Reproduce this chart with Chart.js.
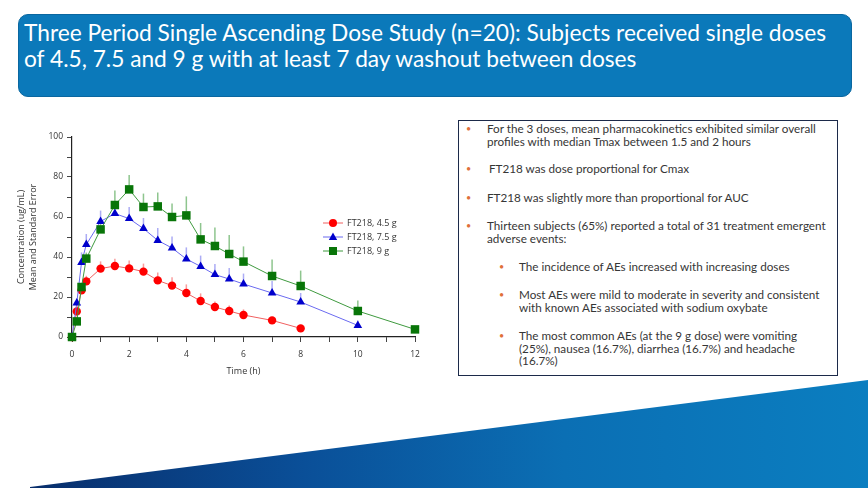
<!DOCTYPE html>
<html>
<head>
<meta charset="utf-8">
<script src="https://cdn.jsdelivr.net/npm/chart.js@4"></script>
<style>
  html, body { margin: 0; padding: 0; }
  body { width: 868px; height: 488px; position: relative; overflow: hidden; background: #fff; }
  #titlebox {
    position: absolute; left: 18px; top: 14px; width: 834px; height: 83px;
    background: #0b79ba; border-radius: 10px; border: 1px solid #0a67a0; box-sizing: border-box;
  }
  #title {
    position: absolute; left: 24px; top: 19px; color: #fff;
    font-family: Lato, sans-serif; font-size: 24px; line-height: 26px;
    white-space: nowrap; transform-origin: 0 0;
  }
  #wedge {
    position: absolute; left: 0; top: 0; width: 868px; height: 488px;
    background: linear-gradient(90deg, #082a66 0%, #0a4f98 35%, #0b6fb4 65%, #0b7ec0 100%);
    clip-path: polygon(30px 487px, 868px 380px, 868px 488px, 30px 488px);
  }
  #chartwrap { position: absolute; left: 0; top: 120px; width: 440px; height: 270px; }
  #panel {
    position: absolute; left: 458px; top: 120px; width: 380px; height: 256px;
    border: 1.5px solid #1c2a4a; box-sizing: border-box;
  }
  .t {
    position: absolute; font-family: Lato, "Open Sans", sans-serif; font-size: 11.7px; line-height: 12.5px;
    color: #363636; white-space: nowrap;
  }
  .b { position: absolute; color: #e0703a; font-family: Lato, sans-serif; font-size: 9px; }
</style>
</head>
<body>
<div id="titlebox"></div>
<div id="title"><span id="tl1">Three Period Single Ascending Dose Study (n=20): Subjects received single doses</span><br>of 4.5, 7.5 and 9 g with at least 7 day washout between doses</div>

<div id="chartwrap"><canvas id="chart" width="440" height="270"></canvas></div>

<div id="panel"></div>
<div class="b" style="left:466px;top:123px">•</div>
<div class="t" style="left:487px;top:122px">For the 3 doses, mean pharmacokinetics exhibited similar overall<br>profiles with median Tmax between 1.5 and 2 hours</div>
<div class="b" style="left:466px;top:163px">•</div>
<div class="t" style="left:489px;top:162px">FT218 was dose proportional for Cmax</div>
<div class="b" style="left:466px;top:192px">•</div>
<div class="t" style="left:487px;top:191px">FT218 was slightly more than proportional for AUC</div>
<div class="b" style="left:466px;top:220px">•</div>
<div class="t" style="left:487px;top:219px">Thirteen subjects (65%) reported a total of 31 treatment emergent<br>adverse events:</div>
<div class="b" style="left:499px;top:261px">•</div>
<div class="t" style="left:519px;top:260px">The incidence of AEs increased with increasing doses</div>
<div class="b" style="left:499px;top:289px">•</div>
<div class="t" style="left:519px;top:288px">Most AEs were mild to moderate in severity and consistent<br>with known AEs associated with sodium oxybate</div>
<div class="b" style="left:499px;top:330px">•</div>
<div class="t" style="left:519px;top:329px">The most common AEs (at the 9 g dose) were vomiting<br>(25%), nausea (16.7%), diarrhea (16.7%) and headache<br>(16.7%)</div>

<div id="wedge"></div>

<script>
const times = [0, 0.167, 0.333, 0.5, 1, 1.5, 2, 2.5, 3, 3.5, 4, 4.5, 5, 5.5, 6, 7, 8, 10, 12];
const labels = ["FT218, 4.5 g", "FT218, 7.5 g", "FT218, 9 g"];
const mean45 = [0, 12.8, 23.3, 27.8, 34.2, 35.5, 34.3, 32.7, 28.3, 25.7, 22, 18, 15, 13, 11, 8.3, 4.3];
const se45 = [0, 1.5, 2, 2.8, 3.6, 3.6, 3.9, 4, 4, 4.2, 4.3, 3.8, 2.8, 2.7, 2.8, 1.2, 0.8];
const mean75 = [0, 17, 37.3, 46.2, 57.8, 61.7, 59.2, 54.2, 48.3, 44.5, 39, 35.3, 31.2, 29, 26.5, 22, 17.5, 5.8];
const se75 = [0, 1.8, 5, 5.3, 5.4, 5.5, 5.8, 5.3, 6.2, 5.7, 5.8, 5.4, 5.3, 5.5, 5.2, 6, 4.5, 2.4];
const mean9 = [0, 7.8, 25, 39.2, 53.8, 66, 73.8, 65, 65.3, 60, 60.8, 48.8, 45.5, 41.5, 37.7, 30.5, 25.5, 13, 3.8];
const se9 = [0, 1, 2, 3, 3, 7.3, 7.2, 6.7, 7, 6.7, 9.5, 8.2, 9.2, 9.5, 7.6, 8.2, 7.7, 5.2, 0];

// squeeze the title so the first line spans the box like the narrow original font
const tl1 = document.getElementById("tl1");
const titleEl = document.getElementById("title");
titleEl.style.transform = "scaleX(" + (802 / tl1.getBoundingClientRect().width) + ")";

function pts(mean) {
  return mean.map((v, i) => ({ x: times[i], y: v }));
}

const errs = [se45, se75, se9];
const errColors = ["rgba(245,90,90,0.6)", "rgba(90,90,235,0.5)", "rgba(50,150,50,0.55)"];

// upward-only standard error bars, drawn under the markers
const errorBars = {
  id: "errorBars",
  beforeDatasetsDraw(chart) {
    const ctx = chart.ctx;
    const y = chart.scales.y;
    ctx.save();
    ctx.lineWidth = 1.5;
    chart.data.datasets.forEach((ds, i) => {
      const meta = chart.getDatasetMeta(i);
      ctx.strokeStyle = errColors[i];
      meta.data.forEach((el, j) => {
        const se = errs[i][j];
        if (!se) return;
        const top = y.getPixelForValue(ds.data[j].y + se);
        ctx.beginPath();
        ctx.moveTo(el.x, el.y);
        ctx.lineTo(el.x, top);
        ctx.stroke();
      });
    });
    ctx.restore();
  }
};

// legend drawn inside the plot, right side
const innerLegend = {
  id: "innerLegend",
  afterDraw(chart) {
    const ctx = chart.ctx;
    ctx.save();
    chart.data.datasets.forEach((ds, i) => {
      const yy = 103 + i * 14;
      const x0 = 323, x1 = 343, xm = 333;
      ctx.strokeStyle = ds.borderColor;
      ctx.lineWidth = 1;
      ctx.beginPath();
      ctx.moveTo(x0, yy);
      ctx.lineTo(x1, yy);
      ctx.stroke();
      ctx.fillStyle = ds.pointBackgroundColor;
      ctx.beginPath();
      if (ds.pointStyle === "circle") {
        ctx.arc(xm, yy, 4, 0, Math.PI * 2);
      } else if (ds.pointStyle === "triangle") {
        ctx.moveTo(xm, yy - 4.5);
        ctx.lineTo(xm + 4.2, yy + 3);
        ctx.lineTo(xm - 4.2, yy + 3);
        ctx.closePath();
      } else {
        ctx.rect(xm - 4, yy - 4, 8, 8);
      }
      ctx.fill();
      ctx.fillStyle = "#333";
      ctx.font = "9px 'Open Sans'";
      ctx.textBaseline = "middle";
      ctx.fillText(ds.label, 347, yy + 0.5);
    });
    ctx.restore();
  }
};

new Chart(document.getElementById("chart").getContext("2d"), {
  type: "line",
  data: {
    datasets: [
      {
        label: labels[0], data: pts(mean45), clip: false, order: 2,
        borderColor: "#f06060", borderWidth: 1,
        pointStyle: "circle", pointRadius: 4.2,
        pointBackgroundColor: "#ff0000", pointBorderColor: "#ff0000", pointBorderWidth: 0
      },
      {
        label: labels[1], data: pts(mean75), clip: false, order: 1,
        borderColor: "#6a6af0", borderWidth: 1,
        pointStyle: "triangle", pointRadius: 5,
        pointBackgroundColor: "#0000cc", pointBorderColor: "#0000cc", pointBorderWidth: 0
      },
      {
        label: labels[2], data: pts(mean9), clip: false, order: 0,
        borderColor: "#3f9a3f", borderWidth: 1,
        pointStyle: "rect", pointRadius: 6,
        pointBackgroundColor: "#087508", pointBorderColor: "#087508", pointBorderWidth: 0
      }
    ]
  },
  options: {
    responsive: false,
    animation: false,
    layout: { padding: { left: 0, top: 17, right: 25, bottom: 0 } },
    plugins: { legend: { display: false }, tooltip: { enabled: false } },
    scales: {
      x: {
        type: "linear", min: 0, max: 12,
        afterFit(s) { s.height = 53; },
        border: { display: true, color: "#222", width: 1.2 },
        grid: { drawOnChartArea: false, drawTicks: true, tickLength: 5, color: "#444" },
        ticks: {
          stepSize: 1, autoSkip: false, maxRotation: 0, padding: 7,
          color: "#333", font: { family: "Open Sans", size: 8.5 },
          callback: v => (v % 2 === 0 ? v : "")
        },
        title: {
          display: true, text: "Time (h)", color: "#333",
          font: { family: "Open Sans", size: 9 }, padding: { top: 0, bottom: 13 }
        }
      },
      y: {
        min: 0, max: 100,
        afterFit(s) { s.width = 72; },
        border: { display: true, color: "#222", width: 1.2 },
        grid: { drawOnChartArea: false, drawTicks: true, tickLength: 5, color: "#444" },
        ticks: {
          stepSize: 10, autoSkip: false, padding: 4,
          color: "#333", font: { family: "Open Sans", size: 8.5 },
          callback: v => (v % 20 === 0 ? v : "")
        },
        title: {
          display: true, text: ["Concentration (ug/mL)", "Mean and Standard Error"], color: "#333",
          font: { family: "Open Sans", size: 9, lineHeight: 1.3 }, padding: { top: 16, bottom: 0 }
        }
      }
    }
  },
  plugins: [errorBars, innerLegend]
});
</script>
</body>
</html>
